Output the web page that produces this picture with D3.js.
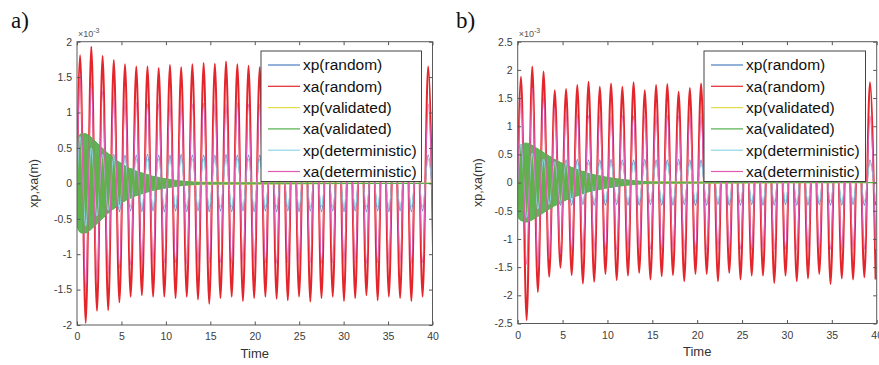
<!DOCTYPE html>
<html>
<head>
<meta charset="utf-8">
<script src="https://cdn.jsdelivr.net/npm/d3@7"></script>
<style>
body { margin: 0; background: #fff; }
text { font-family: "Liberation Sans", Arial, sans-serif; }
</style>
</head>
<body>
<svg id="fig" width="879" height="365"></svg>
<script>
// ---- data (values in units of 1e-3 m) ----
var seriesNames = ["xp(random)", "xa(random)", "xp(validated)", "xa(validated)", "xp(deterministic)", "xa(deterministic)"];
var xTicks = [0, 5, 10, 15, 20, 25, 30, 35, 40];
var yTicksA = [-2, -1.5, -1, -0.5, 0, 0.5, 1, 1.5, 2];
var yTicksB = [-2.5, -2, -1.5, -1, -0.5, 0, 0.5, 1, 1.5, 2, 2.5];

// times of the positive peaks of each cycle
var timesA = [0.35, 1.61, 2.88, 4.14, 5.4, 6.67, 7.93, 9.19, 10.46, 11.72, 12.98, 14.25, 15.51, 16.77, 18.04, 19.3,
  20.56, 21.83, 23.09, 24.35, 25.62, 26.88, 28.14, 29.41, 30.67, 31.93, 33.2, 34.46, 35.72, 36.99, 38.25, 39.51];
var timesB = [0.37, 1.62, 2.88, 4.13, 5.39, 6.64, 7.89, 9.15, 10.4, 11.66, 12.91, 14.16, 15.42, 16.67, 17.93, 19.18,
  20.43, 21.69, 22.94, 24.2, 25.45, 26.7, 27.96, 29.21, 30.47, 31.72, 32.97, 34.23, 35.48, 36.74, 37.99, 39.25];

// panel a: peaks / troughs per cycle
var redPkA = [1.81, 1.93, 1.8, 1.74, 1.68, 1.65, 1.65, 1.63, 1.67, 1.64, 1.68, 1.7, 1.69, 1.72, 1.68, 1.66,
  1.64, 1.7, 1.68, 1.66, 1.64, 1.67, 1.66, 1.7, 1.65, 1.63, 1.67, 1.66, 1.62, 1.68, 1.64, 1.65];
var redTrA = [-1.97, -1.8, -1.79, -1.68, -1.6, -1.58, -1.6, -1.6, -1.62, -1.6, -1.64, -1.7, -1.62, -1.6, -1.66, -1.62,
  -1.6, -1.63, -1.65, -1.6, -1.67, -1.62, -1.6, -1.66, -1.62, -1.58, -1.65, -1.6, -1.62, -1.66, -1.6, -1.55];
var magPkA = [1.55, 1.42, 1.3, 1.22, 1.17, 1.14, 1.12, 1.12, 1.13, 1.12, 1.12, 1.13, 1.12, 1.12, 1.13, 1.12,
  1.12, 1.12, 1.13, 1.12, 1.12, 1.12, 1.13, 1.12, 1.12, 1.12, 1.13, 1.12, 1.12, 1.12, 1.13, 1.12];
var magTrA = [-1.5, -1.38, -1.27, -1.2, -1.15, -1.13, -1.12, -1.12, -1.12, -1.13, -1.12, -1.12, -1.12, -1.13, -1.12, -1.12,
  -1.12, -1.13, -1.12, -1.12, -1.12, -1.13, -1.12, -1.12, -1.12, -1.13, -1.12, -1.12, -1.12, -1.13, -1.12, -1.12];
var bluePkA = [0.58, 0.47, 0.43, 0.41, 0.4, 0.4, 0.41, 0.4, 0.4, 0.41, 0.4, 0.4, 0.4, 0.41, 0.4, 0.4,
  0.4, 0.41, 0.4, 0.4, 0.4, 0.41, 0.4, 0.4, 0.4, 0.41, 0.4, 0.4, 0.4, 0.41, 0.4, 0.4];
var blueTrA = [-0.52, -0.44, -0.41, -0.4, -0.39, -0.4, -0.39, -0.4, -0.39, -0.4, -0.39, -0.4, -0.39, -0.4, -0.39, -0.4,
  -0.39, -0.4, -0.39, -0.4, -0.39, -0.4, -0.39, -0.4, -0.39, -0.4, -0.39, -0.4, -0.39, -0.4, -0.39, -0.4];
var cyanPkA = [0.66, 0.5, 0.41, 0.37, 0.35, 0.34, 0.34, 0.34, 0.34, 0.34, 0.34, 0.34, 0.34, 0.34, 0.34, 0.34,
  0.34, 0.34, 0.34, 0.34, 0.34, 0.34, 0.34, 0.34, 0.34, 0.34, 0.34, 0.34, 0.34, 0.34, 0.34, 0.34];
var cyanTrA = [-0.6, -0.46, -0.38, -0.35, -0.33, -0.33, -0.33, -0.33, -0.33, -0.33, -0.33, -0.33, -0.33, -0.33, -0.33, -0.33,
  -0.33, -0.33, -0.33, -0.33, -0.33, -0.33, -0.33, -0.33, -0.33, -0.33, -0.33, -0.33, -0.33, -0.33, -0.33, -0.33];

// panel b
var redPkB = [1.88, 2.06, 1.97, 1.64, 1.66, 1.73, 1.79, 1.7, 1.76, 1.7, 1.78, 1.64, 1.73, 1.75, 1.61, 1.68,
  1.76, 1.62, 1.72, 1.75, 1.66, 1.7, 1.78, 1.65, 1.62, 1.72, 1.68, 1.74, 1.64, 1.7, 1.66, 1.78];
var redTrB = [-2.44, -1.94, -1.67, -1.51, -1.64, -1.79, -1.76, -1.62, -1.73, -1.65, -1.6, -1.72, -1.66, -1.64, -1.75, -1.62,
  -1.62, -1.75, -1.6, -1.72, -1.65, -1.65, -1.78, -1.65, -1.75, -1.7, -1.62, -1.8, -1.7, -1.72, -1.68, -1.72];
var magPkB = [1.5, 1.68, 1.5, 1.32, 1.24, 1.2, 1.19, 1.18, 1.18, 1.19, 1.18, 1.18, 1.18, 1.19, 1.18, 1.18,
  1.18, 1.19, 1.18, 1.18, 1.18, 1.19, 1.18, 1.18, 1.18, 1.19, 1.18, 1.18, 1.18, 1.19, 1.18, 1.18];
var magTrB = [-1.45, -1.5, -1.36, -1.26, -1.21, -1.19, -1.18, -1.18, -1.19, -1.18, -1.18, -1.18, -1.19, -1.18, -1.18, -1.18,
  -1.19, -1.18, -1.18, -1.18, -1.19, -1.18, -1.18, -1.18, -1.19, -1.18, -1.18, -1.18, -1.19, -1.18, -1.18, -1.18];
var bluePkB = [0.6, 0.48, 0.43, 0.41, 0.4, 0.41, 0.4, 0.4, 0.41, 0.4, 0.4, 0.41, 0.4, 0.4, 0.41, 0.4,
  0.4, 0.41, 0.4, 0.4, 0.41, 0.4, 0.4, 0.41, 0.4, 0.4, 0.41, 0.4, 0.4, 0.41, 0.4, 0.4];
var blueTrB = [-0.55, -0.45, -0.41, -0.4, -0.4, -0.39, -0.4, -0.4, -0.39, -0.4, -0.4, -0.39, -0.4, -0.4, -0.39, -0.4,
  -0.4, -0.39, -0.4, -0.4, -0.39, -0.4, -0.4, -0.39, -0.4, -0.4, -0.39, -0.4, -0.4, -0.39, -0.4, -0.4];
var cyanPkB = [0.68, 0.52, 0.42, 0.37, 0.35, 0.34, 0.34, 0.34, 0.34, 0.34, 0.34, 0.34, 0.34, 0.34, 0.34, 0.34,
  0.34, 0.34, 0.34, 0.34, 0.34, 0.34, 0.34, 0.34, 0.34, 0.34, 0.34, 0.34, 0.34, 0.34, 0.34, 0.34];
var cyanTrB = [-0.62, -0.47, -0.39, -0.35, -0.33, -0.33, -0.33, -0.33, -0.33, -0.33, -0.33, -0.33, -0.33, -0.33, -0.33, -0.33,
  -0.33, -0.33, -0.33, -0.33, -0.33, -0.33, -0.33, -0.33, -0.33, -0.33, -0.33, -0.33, -0.33, -0.33, -0.33, -0.33];

// validated responses: fast decaying oscillation, envelope sampled every 0.25 s
var envStep = 0.25;
var greenEnvA = [0.6, 0.68, 0.7, 0.7, 0.7, 0.68, 0.66, 0.63, 0.6, 0.57, 0.54, 0.51, 0.48, 0.45, 0.42, 0.4,
  0.37, 0.35, 0.32, 0.3, 0.28, 0.26, 0.24, 0.22, 0.21, 0.2, 0.18, 0.17, 0.16, 0.15, 0.14, 0.13,
  0.12, 0.11, 0.1, 0.095, 0.09, 0.083, 0.077, 0.07, 0.065, 0.06, 0.055, 0.05, 0.045, 0.041, 0.037, 0.033,
  0.03, 0.027, 0.024, 0.021, 0.018, 0.016, 0.014, 0.012, 0.01];
var greenEnvB = [0.6, 0.66, 0.68, 0.7, 0.7, 0.69, 0.67, 0.65, 0.62, 0.6, 0.57, 0.55, 0.52, 0.5, 0.47, 0.45,
  0.42, 0.4, 0.38, 0.36, 0.34, 0.32, 0.3, 0.29, 0.27, 0.26, 0.24, 0.23, 0.21, 0.2, 0.19, 0.17,
  0.16, 0.15, 0.14, 0.13, 0.125, 0.118, 0.11, 0.1, 0.095, 0.088, 0.082, 0.076, 0.07, 0.065, 0.06, 0.055,
  0.05, 0.046, 0.042, 0.038, 0.035, 0.031, 0.027, 0.023, 0.02, 0.017, 0.014, 0.012, 0.01];
var yellowEnv = [0.4, 0.46, 0.48, 0.5, 0.49, 0.47, 0.45, 0.43, 0.41, 0.39, 0.37, 0.35, 0.33, 0.31, 0.29, 0.27,
  0.25, 0.23, 0.21, 0.2, 0.18, 0.17, 0.15, 0.14, 0.13, 0.12, 0.11, 0.1, 0.09, 0.085, 0.08, 0.07,
  0.065, 0.06, 0.055, 0.05, 0.045, 0.04, 0.035, 0.03, 0.025];

var colors = ["#4a7fc2", "#e4262c", "#e3dc4a", "#52ae4a", "#8fd6e6", "#e05cb4"];

var svg = d3.select("#fig");

// alternate peak / trough per cycle
function cyclePoints(times, pk, tr) {
  var pts = [[0, 0]];
  times.forEach(function (t, i) {
    var next = i < times.length - 1 ? times[i + 1] : t + (t - times[i - 1]);
    pts.push([t, pk[i]]);
    pts.push([(t + next) / 2, tr[i]]);
  });
  return pts;
}

function envPoints(env) {
  var pts = env.map(function (a, i) { return [i * envStep, a]; });
  pts.push([40, 0]);
  return pts;
}

function drawPanel(p) {
  var width = p.right - p.left,
    height = p.bottom - p.top;

  var x = d3.scaleLinear().domain([0, 40]).range([0, width]);
  var y = d3.scaleLinear().domain(p.yDomain).range([height, 0]);

  var g = svg.append("g")
    .attr("transform", "translate(" + p.left + "," + p.top + ")");

  g.append("clipPath").attr("id", "clip" + p.id)
    .append("rect").attr("width", width).attr("height", height);

  var line = d3.line()
    .x(function (d) { return x(d[0]); })
    .y(function (d) { return y(d[1]); })
    .curve(d3.curveMonotoneX);

  // the validated responses oscillate so fast they read as a filled band
  var band = d3.area()
    .x(function (d) { return x(d[0]); })
    .y0(function (d) { return y(-d[1]); })
    .y1(function (d) { return y(d[1]); })
    .curve(d3.curveMonotoneX);

  var plot = g.append("g").attr("clip-path", "url(#clip" + p.id + ")");

  // plotting order as in the legend, last one on top
  plot.append("path").datum(cyclePoints(p.times, p.bluePk, p.blueTr))
    .attr("fill", "none").attr("stroke", colors[0]).attr("stroke-width", 1.1).attr("d", line);
  plot.append("path").datum(cyclePoints(p.times, p.redPk, p.redTr))
    .attr("fill", "none").attr("stroke", colors[1]).attr("stroke-width", 2).attr("d", line);
  plot.append("path").datum(envPoints(yellowEnv))
    .attr("fill", colors[2]).attr("stroke", colors[2]).attr("stroke-width", 1).attr("d", band);
  plot.append("path").datum(envPoints(p.greenEnv))
    .attr("fill", colors[3]).attr("fill-opacity", 0.92)
    .attr("stroke", colors[3]).attr("stroke-width", 1).attr("d", band);
  plot.append("path").datum(cyclePoints(p.times, p.cyanPk, p.cyanTr))
    .attr("fill", "none").attr("stroke", colors[4]).attr("stroke-width", 1).attr("d", line);
  plot.append("path").datum(cyclePoints(p.times, p.magPk, p.magTr))
    .attr("fill", "none").attr("stroke", colors[5]).attr("stroke-width", 1.2).attr("d", line);

  // axes, MATLAB style ticks inside on all four sides
  var tk = 3.5;
  var fmt = function (d) { return String(d); };
  var xAxis = d3.axisBottom(x).tickValues(xTicks).tickFormat(fmt).tickSizeInner(-tk).tickSizeOuter(0).tickPadding(8);
  var yAxis = d3.axisLeft(y).tickValues(p.yTicks).tickFormat(fmt).tickSizeInner(-tk).tickSizeOuter(0).tickPadding(5);

  g.append("g").attr("transform", "translate(0," + height + ")").call(xAxis);
  g.append("g").call(yAxis);
  g.append("g").call(d3.axisTop(x).tickValues(xTicks).tickSizeInner(-tk).tickSizeOuter(0).tickFormat(""));
  g.append("g").attr("transform", "translate(" + width + ",0)")
    .call(d3.axisRight(y).tickValues(p.yTicks).tickSizeInner(-tk).tickSizeOuter(0).tickFormat(""));

  g.selectAll(".domain").remove();
  g.selectAll(".tick line").attr("stroke", "#555");
  g.selectAll(".tick text").attr("fill", "#3c3c3c").style("font-size", "10.5px");

  g.append("rect")
    .attr("width", width).attr("height", height)
    .attr("fill", "none").attr("stroke", "#5a5a5a").attr("stroke-width", 1);

  // exponent
  var ex = g.append("text").attr("x", 1).attr("y", -5)
    .attr("fill", "#555").style("font-size", "9px");
  ex.append("tspan").text("\u00d710");
  ex.append("tspan").attr("dy", -3.5).style("font-size", "7px").text("-3");

  // axis titles
  g.append("text")
    .attr("x", width / 2).attr("y", height + 33)
    .attr("text-anchor", "middle").attr("fill", "#333")
    .style("font-size", "13px").text("Time");

  g.append("text")
    .attr("transform", "translate(" + p.yLabelDx + "," + (height / 2) + ") rotate(-90)")
    .attr("text-anchor", "middle").attr("fill", "#333")
    .style("font-size", "12.5px").text("xp,xa(m)");

  // panel letter
  svg.append("text")
    .attr("x", p.labelX).attr("y", 28)
    .style("font-family", "'Liberation Serif', 'Times New Roman', serif")
    .style("font-size", "23px").attr("fill", "#111")
    .text(p.label);

  // legend
  var lg = svg.append("g").attr("transform", "translate(" + p.legX + "," + p.legY + ")");
  lg.append("rect")
    .attr("width", p.legW).attr("height", 130.5)
    .attr("fill", "#fff").attr("stroke", "#444").attr("stroke-width", 1);
  var item = lg.selectAll(".item").data(seriesNames).enter().append("g")
    .attr("transform", function (d, i) { return "translate(0," + (14 + i * 21.3) + ")"; });
  item.append("line")
    .attr("x1", 7).attr("x2", 39)
    .attr("stroke", function (d, i) { return colors[i]; })
    .attr("stroke-width", 1.2);
  item.append("text")
    .attr("x", 42).attr("dy", "0.35em")
    .attr("fill", "#111").style("font-size", "15.5px")
    .text(function (d) { return d; });
}

drawPanel({
  id: "a", label: "a)", labelX: 11, yLabelDx: -39,
  left: 77, right: 432.5, top: 41.7, bottom: 325,
  yDomain: [-2, 2], yTicks: yTicksA, times: timesA,
  redPk: redPkA, redTr: redTrA, magPk: magPkA, magTr: magTrA,
  bluePk: bluePkA, blueTr: blueTrA, cyanPk: cyanPkA, cyanTr: cyanTrA,
  greenEnv: greenEnvA,
  legX: 261, legY: 51, legW: 160.5
});

drawPanel({
  id: "b", label: "b)", labelX: 456, yLabelDx: -36,
  left: 517.7, right: 876.7, top: 41.7, bottom: 323.5,
  yDomain: [-2.5, 2.5], yTicks: yTicksB, times: timesB,
  redPk: redPkB, redTr: redTrB, magPk: magPkB, magTr: magTrB,
  bluePk: bluePkB, blueTr: blueTrB, cyanPk: cyanPkB, cyanTr: cyanTrB,
  greenEnv: greenEnvB,
  legX: 704, legY: 51, legW: 161.5
});
</script>
</body>
</html>
